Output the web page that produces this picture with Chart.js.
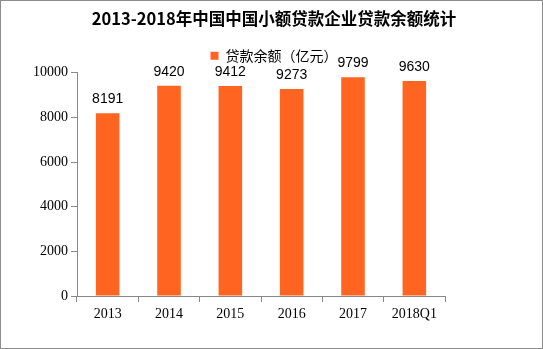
<!DOCTYPE html>
<html>
<head>
<meta charset="utf-8">
<script src="https://cdn.jsdelivr.net/npm/chart.js@4"></script>
<style>
  html, body { margin: 0; padding: 0; background: #fff; }
  #wrap { position: relative; width: 543px; height: 349px; box-sizing: border-box; border: 1px solid #8c8c8c; }
  canvas { display: block; }
</style>
</head>
<body>
<div id="wrap"><canvas id="chart" width="541" height="347"></canvas></div>
<script>
// chart data
const categories = ['2013', '2014', '2015', '2016', '2017', '2018Q1'];
const loanBalance = [8191, 9420, 9412, 9273, 9799, 9630];
const yTicks = [0, 2000, 4000, 6000, 8000, 10000];

const barColor = '#FF6420';
const axisColor = '#888888';

// draws value labels above each bar
const valueLabels = {
    id: 'valueLabels',
    afterDatasetsDraw(chart) {
        const ctx = chart.ctx;
        const meta = chart.getDatasetMeta(0);
        ctx.save();
        ctx.font = '14px "Liberation Sans", Arial, sans-serif';
        ctx.fillStyle = '#000';
        ctx.textAlign = 'center';
        ctx.textBaseline = 'bottom';
        meta.data.forEach((bar, i) => {
            ctx.fillText(String(loanBalance[i]), bar.x, bar.y - 7);
        });
        ctx.restore();
    }
};

new Chart(document.getElementById('chart'), {
    type: 'bar',
    data: {
        labels: categories,
        datasets: [{
            label: '贷款余额（亿元）',
            data: loanBalance,
            backgroundColor: barColor,
            borderWidth: 0,
            barPercentage: 0.8,
            categoryPercentage: 0.48
        }]
    },
    options: {
        responsive: false,
        animation: false,
        layout: { padding: { left: 5, right: 0, top: 6, bottom: 12 } },
        plugins: {
            tooltip: { enabled: false },
            title: {
                display: true,
                text: '2013-2018年中国中国小额贷款企业贷款余额统计',
                color: '#000',
                font: { family: '"Noto Sans CJK SC", sans-serif', size: 16.5, weight: 'bold' },
                padding: { top: 2, bottom: 20 }
            },
            legend: {
                display: true,
                labels: {
                    color: '#000',
                    boxWidth: 8,
                    boxHeight: 8,
                    padding: 0,
                    font: { family: '"Noto Sans CJK SC", sans-serif', size: 14 }
                }
            }
        },
        scales: {
            x: {
                grid: { display: true, drawOnChartArea: false, drawTicks: true, tickLength: 6, color: axisColor, offset: true },
                border: { display: true, color: axisColor },
                ticks: {
                    color: '#000',
                    font: { family: '"Liberation Serif", serif', size: 14 },
                    padding: 4,
                    maxRotation: 0
                },
                afterFit(scale) { scale.height = 40; }
            },
            y: {
                min: 0,
                max: 10000,
                afterBuildTicks(scale) { scale.ticks = yTicks.map(v => ({ value: v })); },
                grid: { display: true, drawOnChartArea: false, drawTicks: true, tickLength: 6, color: axisColor },
                border: { display: true, color: axisColor },
                ticks: {
                    color: '#000',
                    font: { family: '"Liberation Serif", serif', size: 14 },
                    padding: 3,
                    callback: v => String(v)
                },
                afterFit(scale) { scale.width = 71; }
            },
            // empty right-hand space so the title and legend stay centred on the whole image
            spacer: {
                position: 'right',
                display: true,
                grid: { display: false },
                border: { display: false },
                ticks: { display: false },
                afterFit(scale) { scale.width = 97; }
            }
        }
    },
    plugins: [valueLabels]
});
</script>
</body>
</html>
